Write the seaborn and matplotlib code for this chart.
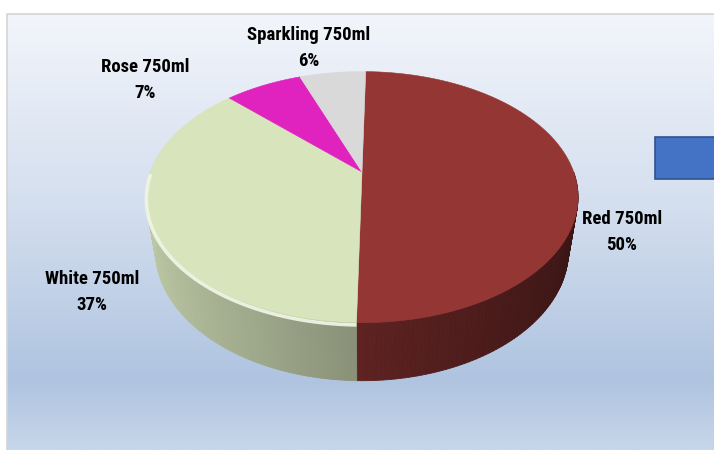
import numpy as np
import matplotlib
matplotlib.use("Agg")
import matplotlib.pyplot as plt
import seaborn as sns
from matplotlib import font_manager
from matplotlib.collections import PolyCollection
from matplotlib.colors import to_rgb, LinearSegmentedColormap
from matplotlib.patches import Rectangle, Polygon

# ---- data -------------------------------------------------------------
categories = ["Red 750ml", "White 750ml", "Rose 750ml", "Sparkling 750ml"]
shares = [50, 37, 7, 6]
slice_colors = ["#943634", "#d7e4bc", "#e022bf", "#d9d9d9"]
# how strongly the front rim of each slice catches the light
rim_light = [0.0, 0.6, 0.0, 0.0]

# label anchor points (figure pixels, origin top-left)
label_pos = [(622, 232), (92, 292), (145, 80), (309, 48)]

# ---- style ------------------------------------------------------------
sns.set_theme(style="white")
available = {f.name for f in font_manager.fontManager.ttflist}
label_family = next(
    (n for n in ["Liberation Sans Narrow", "Roboto Condensed", "Liberation Sans"] if n in available),
    "DejaVu Sans",
)
plt.rcParams["font.family"] = [label_family, "DejaVu Sans"]

palette = sns.color_palette(slice_colors)

W, H = 714, 450
fig = plt.figure(figsize=(W / 100, H / 100), dpi=100)
ax = fig.add_axes([0, 0, 1, 1])
ax.set_xlim(0, W)
ax.set_ylim(H, 0)
ax.axis("off")

# ---- chart-area background -------------------------------------------
bg = LinearSegmentedColormap.from_list(
    "bg",
    [(0.0, "#f2f5fb"), (0.45, "#d3deee"), (0.84, "#afc4e0"), (1.0, "#c7d6ea")],
)
grad = np.linspace(0, 1, 256)[:, None]
ax.imshow(grad, cmap=bg, aspect="auto", extent=(7, W, H, 14), zorder=0)
ax.plot([6.5, 6.5, W], [H, 13.5, 13.5], color="#d4d4d4", lw=1.2, zorder=1)

# ---- 3-D pie projection ----------------------------------------------
ELEV = np.radians(34.7)
DIST = 4.11
FOCAL = 870.0
THICK = 0.32
CX, CY = 362.0, 172.0
START = np.radians(1.2)


def project(theta, height):
    x = np.sin(theta)
    z = np.cos(theta)
    yc = z * np.sin(ELEV) + height * np.cos(ELEV)
    depth = DIST + z * np.cos(ELEV) - height * np.sin(ELEV)
    return CX + FOCAL * x / depth, CY - FOCAL * yc / depth


def side_shade(theta):
    # lit from the front-left, dark towards the right
    return 0.63 - 0.25 * np.sin(theta)


total = float(sum(shares))
bounds = START + 2 * np.pi * np.concatenate([[0], np.cumsum(shares)]) / total

# side walls (front half only)
quads, quad_cols = [], []
for k, col in enumerate(palette):
    lo = max(bounds[k], np.pi / 2)
    hi = min(bounds[k + 1], 3 * np.pi / 2)
    if lo >= hi:
        continue
    th = np.linspace(lo, hi, max(int((hi - lo) / np.radians(1.0)), 2) + 1)
    tx, ty = project(th, 0.0)
    bx, by = project(th, -THICK)
    base = np.array(to_rgb(col))
    for i in range(len(th) - 1):
        quads.append([(tx[i], ty[i]), (tx[i + 1], ty[i + 1]),
                      (bx[i + 1], by[i + 1]), (bx[i], by[i])])
        quad_cols.append(np.clip(base * side_shade(0.5 * (th[i] + th[i + 1])), 0, 1))
ax.add_collection(PolyCollection(quads, facecolors=quad_cols, edgecolors=quad_cols,
                                 linewidths=0.6, zorder=3))

# top faces
for k, col in enumerate(palette):
    th = np.linspace(bounds[k], bounds[k + 1], 200)
    xs, ys = project(th, 0.0)
    pts = np.column_stack([np.r_[CX, xs], np.r_[CY, ys]])
    ax.add_patch(Polygon(pts, closed=True, facecolor=col, edgecolor=col, lw=0.4, zorder=4))

# bevel highlight on the front rim
for k, col in enumerate(palette):
    lo = max(bounds[k], np.pi / 2)
    hi = min(bounds[k + 1], 3 * np.pi / 2)
    if lo >= hi or rim_light[k] <= 0:
        continue
    th = np.linspace(lo, hi, 200)
    xs, ys = project(th, -0.012)
    rim = np.array(to_rgb(col)) * (1 - rim_light[k]) + rim_light[k]
    ax.plot(xs, ys, color=rim, lw=2.6, alpha=0.95, solid_capstyle="butt", zorder=5)

# data labels
for name, share, (lx, ly) in zip(categories, shares, label_pos):
    pct = round(100 * share / total)
    ax.text(lx, ly, f"{name}\n{pct}%", ha="center", va="center", fontsize=13.5,
            fontweight="bold", color="black", linespacing=1.5, zorder=6)

# legend key partly outside the canvas
ax.add_patch(Rectangle((655, 137), 80, 42, facecolor="#4472c4", edgecolor="#2f528f",
                       lw=1.2, zorder=6, clip_on=False))

fig.savefig("out.png", dpi=100)
